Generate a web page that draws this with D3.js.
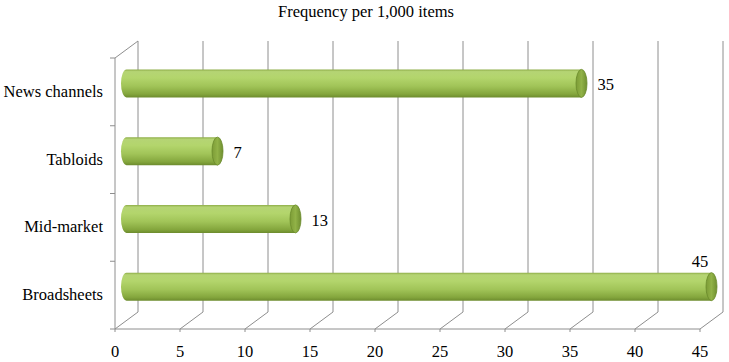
<!DOCTYPE html>
<html><head><meta charset="utf-8">
<script src="https://cdn.jsdelivr.net/npm/d3@7"></script>
<style>body{margin:0;background:#fff}svg{display:block}</style>
</head><body>
<script>
const categories = ["News channels", "Tabloids", "Mid-market", "Broadsheets"];
const values = [35, 7, 13, 45];
const xTicks = [0, 5, 10, 15, 20, 25, 30, 35, 40, 45];
const title = "Frequency per 1,000 items";

const W = 729, H = 362;
const svg = d3.select("body").append("svg").attr("width", W).attr("height", H);
const font = "'Liberation Serif','Times New Roman',serif";
const fs = 16.5;
const x = d3.scaleLinear().domain([0, 45]).range([115, 700]);
const y = d3.scaleBand().domain(categories).range([58, 329]);
const DX = 23, DY = -17;
const gridCol = "#8e8e8e";

const defs = svg.append("defs");
const g1 = defs.append("linearGradient").attr("id", "body").attr("x1", 0).attr("y1", 0).attr("x2", 0).attr("y2", 1);
[[0, "#8cab45"], [0.08, "#b5d474"], [0.3, "#b3d56c"], [0.6, "#a1c458"], [0.88, "#84a63d"], [1, "#6d8c2e"]]
  .forEach(([o, c]) => g1.append("stop").attr("offset", o).attr("stop-color", c));
const g2 = defs.append("linearGradient").attr("id", "cap").attr("x1", 0).attr("y1", 0).attr("x2", 1).attr("y2", 0);
[[0, "#7c9c36"], [0.5, "#91b247"], [1, "#6f8f30"]]
  .forEach(([o, c]) => g2.append("stop").attr("offset", o).attr("stop-color", c));

// title
svg.append("text").attr("x", 366).attr("y", 17).attr("text-anchor", "middle")
  .attr("font-family", font).attr("font-size", fs).attr("fill", "#000").text(title);

const grid = svg.append("g").attr("stroke", gridCol).attr("stroke-width", 1).attr("fill", "none");
xTicks.forEach(t => {
  grid.append("line").attr("x1", x(t) + DX).attr("x2", x(t) + DX)
    .attr("y1", y.range()[0] + DY).attr("y2", y.range()[1] + DY);
  grid.append("line").attr("x1", x(t)).attr("y1", y.range()[1])
    .attr("x2", x(t) + DX).attr("y2", y.range()[1] + DY);
  grid.append("line").attr("x1", x(t)).attr("x2", x(t))
    .attr("y1", y.range()[1]).attr("y2", y.range()[1] + 3);
});
grid.append("line").attr("x1", x(0)).attr("x2", x(45)).attr("y1", y.range()[1]).attr("y2", y.range()[1]);
grid.append("line").attr("x1", x(0)).attr("x2", x(0)).attr("y1", y.range()[0]).attr("y2", y.range()[1]);
grid.append("line").attr("x1", x(0)).attr("y1", y.range()[0]).attr("x2", x(0) + DX).attr("y2", y.range()[0] + DY);
const bounds = categories.map(c => y(c)).concat([y.range()[1]]);
bounds.forEach(b => grid.append("line").attr("x1", x(0) - 5).attr("x2", x(0)).attr("y1", b).attr("y2", b));

// category labels
svg.append("g").selectAll("text").data(categories).join("text")
  .attr("x", 103).attr("y", d => y(d) + y.bandwidth() / 2 + 5)
  .attr("text-anchor", "end").attr("font-family", font).attr("font-size", fs).attr("fill", "#000")
  .text(d => d);

// x tick labels
svg.append("g").selectAll("text").data(xTicks).join("text")
  .attr("x", d => x(d)).attr("y", 357).attr("text-anchor", "middle")
  .attr("font-family", font).attr("font-size", fs).attr("fill", "#000").text(d => d);

// bars (cylinders)
const bh = 28, rx = 5.5;
const bars = svg.append("g");
categories.forEach((c, i) => {
  const v = values[i];
  const cy = y(c) + y.bandwidth() / 2 + DY / 2;
  const x0 = x(0) + DX / 2, x1 = x(v) + DX / 2;
  const top = cy - bh / 2, bot = cy + bh / 2;
  const p = `M${x1},${top} L${x0},${top} A${rx},${bh / 2} 0 0 0 ${x0},${bot} L${x1},${bot} Z`;
  bars.append("path").attr("d", p).attr("fill", "url(#body)");
  bars.append("ellipse").attr("cx", x1).attr("cy", cy).attr("rx", rx).attr("ry", bh / 2)
    .attr("fill", "url(#cap)").attr("stroke", "#6a8a2b").attr("stroke-width", 0.8);
  const lbl = bars.append("text").attr("font-family", font).attr("font-size", fs).attr("fill", "#000").text(v);
  if (x1 + 40 > W) {
    lbl.attr("x", x(v)).attr("y", top - 6).attr("text-anchor", "middle");
  } else {
    lbl.attr("x", x1 + 16).attr("y", cy + 7).attr("text-anchor", "start");
  }
});
</script>
</body></html>
